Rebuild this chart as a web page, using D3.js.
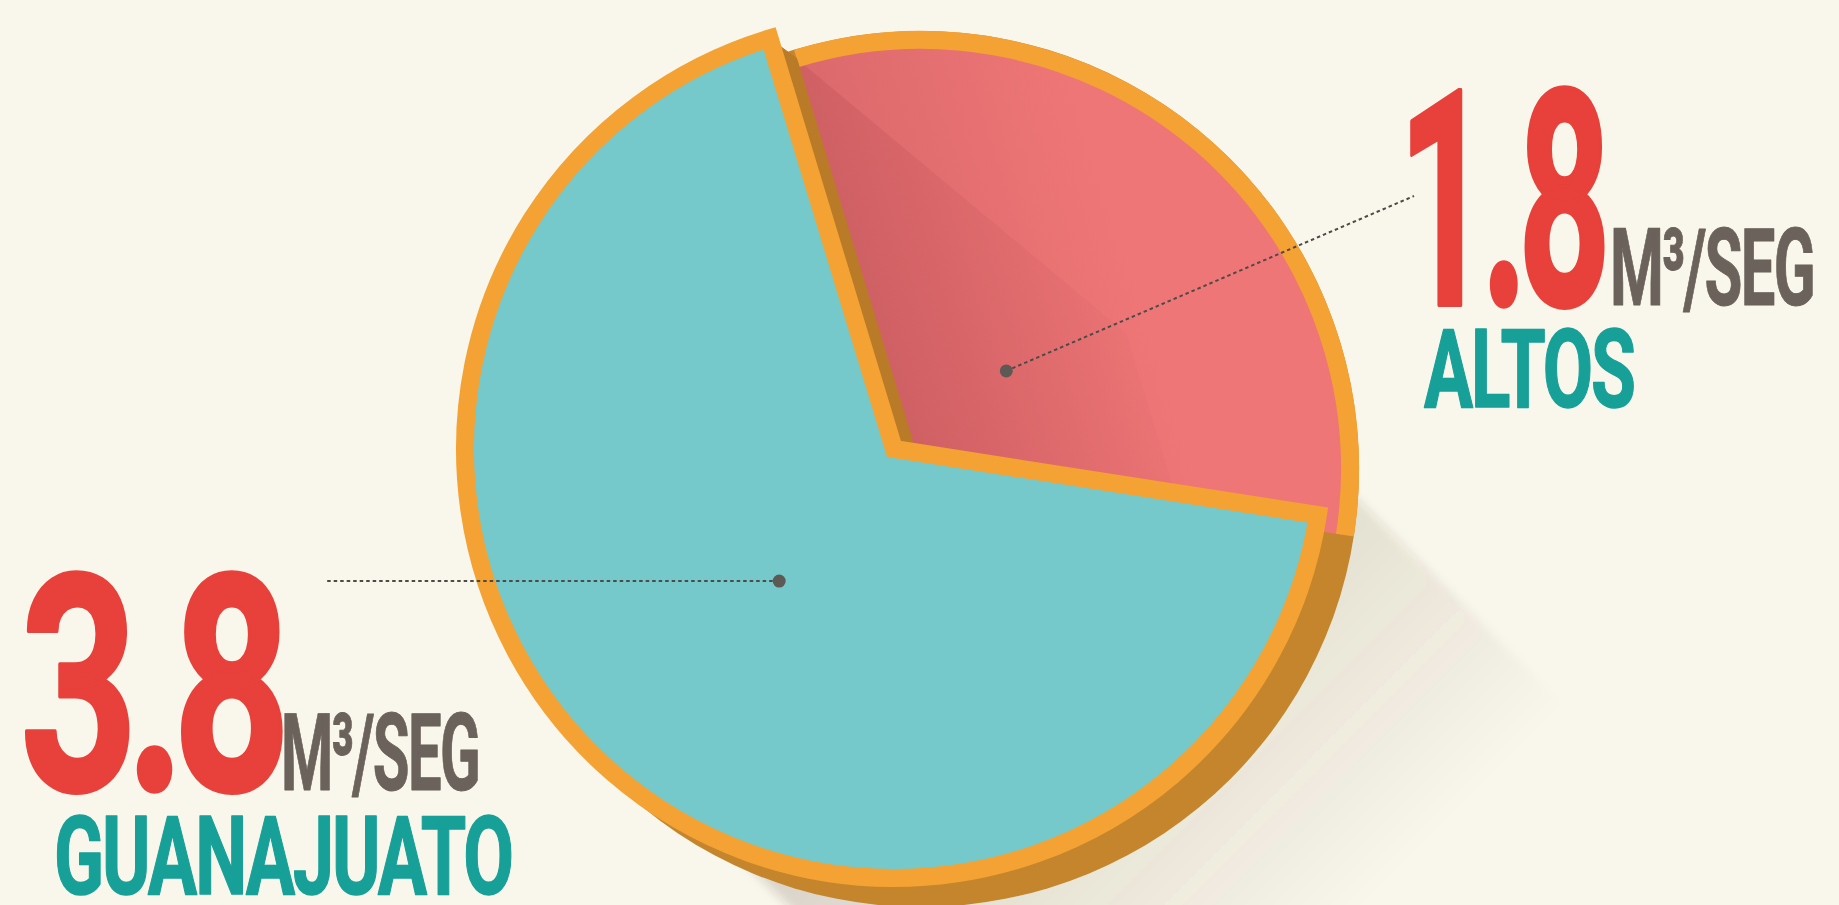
<!DOCTYPE html>
<html>
<head>
<meta charset="utf-8">
<script src="https://cdn.jsdelivr.net/npm/d3@7"></script>
<style>
  html, body { margin: 0; padding: 0; background: #f9f6eb; overflow: hidden; }
  svg { display: block; }
</style>
</head>
<body>
<svg id="chart" width="1839" height="905"></svg>
<script>
// Caudal aportado por región (m³/seg)
const categories = ["ALTOS", "GUANAJUATO"];
const values = [1.8, 3.8];
const valueLabels = ["1.8", "3.8"];
const unitLabel = "M³/SEG";

// ---- layout ----
const W = 1839, H = 905;
const C = { x: 894, y: 449 };        // centre of the raised face
const R = 429;                        // face radius
const RING = 18;                      // orange border width
const depth = { x: 27, y: 20 };       // offset of the lower level (3D thickness)
const midFirst = 41 * Math.PI / 180;  // direction of the first slice
const labelRadius = [130, 175];

const colors = {
  bg: "#f9f6eb",
  slice: ["#ef7676", "#75c9ca"],
  ring: "#f4a234",
  rim: "#c5852d",
  wall: "#b97b28",
  number: "#e8403a",
  unit: "#6a625b",
  name: "#17a098",
  leader: "#4d4a47"
};

const svg = d3.select("#chart");
svg.append("rect").attr("width", W).attr("height", H).attr("fill", colors.bg);

const total = d3.sum(values);
const a0 = midFirst - Math.PI * values[0] / total;
const pie = d3.pie().sort(null).startAngle(a0).endAngle(a0 + 2 * Math.PI);
const slices = pie(values);
const arc = d3.arc().innerRadius(0).outerRadius(R);
const rimArc = d3.arc().innerRadius(R).outerRadius(R);
const pt = (a, r) => [r * Math.sin(a), -r * Math.cos(a)];

const defs = svg.append("defs");

// long shadow toward the lower right
const u = [Math.SQRT1_2, Math.SQRT1_2];
const n = [Math.SQRT1_2, -Math.SQRT1_2];
const S = { x: C.x + depth.x / 2, y: C.y + depth.y / 2 };
const sp = (along, side) => [S.x + u[0] * along + n[0] * side, S.y + u[1] * along + n[1] * side];

defs.append("filter").attr("id", "soft").attr("x", "-20%").attr("y", "-20%").attr("width", "140%").attr("height", "140%")
  .append("feGaussianBlur").attr("stdDeviation", 5);

const sg = defs.append("linearGradient").attr("id", "shadowGrad").attr("gradientUnits", "userSpaceOnUse")
  .attr("x1", sp(200, 0)[0]).attr("y1", sp(200, 0)[1])
  .attr("x2", sp(640, 0)[0]).attr("y2", sp(640, 0)[1]);
sg.append("stop").attr("offset", 0).attr("stop-color", "#3a3020").attr("stop-opacity", 0.17);
sg.append("stop").attr("offset", 1).attr("stop-color", "#3a3020").attr("stop-opacity", 0);

svg.append("path")
  .attr("d", d3.line()([sp(0, 290), sp(900, 290), sp(900, -400), sp(0, -400)]) + "Z")
  .attr("fill", "url(#shadowGrad)")
  .attr("filter", "url(#soft)");

// lower level: side rim of the whole disc
svg.append("circle")
  .attr("cx", C.x + depth.x).attr("cy", C.y + depth.y).attr("r", R + RING / 2)
  .attr("fill", colors.rim);

// first slice, sunk to the lower level
const low = svg.append("g").attr("transform", `translate(${C.x + depth.x},${C.y + depth.y})`);
const s0 = slices[0];

const tipA = s0.startAngle;
const T = pt(tipA, R);
const perp = [Math.cos(tipA), Math.sin(tipA)];   // points into the sunk slice

const pg = defs.append("linearGradient").attr("id", "sinkGrad").attr("gradientUnits", "userSpaceOnUse")
  .attr("x1", 0).attr("y1", 0).attr("x2", perp[0] * 260).attr("y2", perp[1] * 260);
pg.append("stop").attr("offset", 0).attr("stop-color", "#db696c");
pg.append("stop").attr("offset", 1).attr("stop-color", colors.slice[0]);

defs.append("clipPath").attr("id", "sinkClip").append("path").attr("d", arc(s0));

low.append("path").attr("d", arc(s0)).attr("fill", "url(#sinkGrad)");

// shade cast by the raised wall
const sh = [330, 275];
const cg = defs.append("linearGradient").attr("id", "castGrad").attr("gradientUnits", "userSpaceOnUse")
  .attr("x1", 0).attr("y1", 0).attr("x2", perp[0] * 300).attr("y2", perp[1] * 300);
cg.append("stop").attr("offset", 0).attr("stop-color", "#7a1c28").attr("stop-opacity", 0.12);
cg.append("stop").attr("offset", 1).attr("stop-color", "#7a1c28").attr("stop-opacity", 0);
low.append("path")
  .attr("clip-path", "url(#sinkClip)")
  .attr("d", d3.line()([T, [T[0] + sh[0], T[1] + sh[1]], [sh[0], sh[1]], [0, 0]]) + "Z")
  .attr("fill", "url(#castGrad)");

low.append("path").attr("d", rimArc(s0))
  .attr("fill", "none").attr("stroke", colors.ring).attr("stroke-width", RING);

// wall of the raised slice facing the sunk one
const up = svg.append("g").attr("transform", `translate(${C.x},${C.y})`);
up.append("path")
  .attr("d", d3.line()([[0, 0], T, [T[0] + depth.x, T[1] + depth.y], [depth.x, depth.y]]) + "Z")
  .attr("fill", colors.wall)
  .attr("stroke", colors.wall).attr("stroke-width", 1);

// raised slice
up.append("path").attr("d", arc(slices[1]))
  .attr("fill", colors.slice[1])
  .attr("stroke", colors.ring).attr("stroke-width", RING)
  .attr("stroke-linejoin", "miter");

// leader lines and dots
const centres = [
  { x: C.x + depth.x, y: C.y + depth.y },
  { x: C.x, y: C.y }
];
const dots = slices.map((s, i) => {
  const c = d3.arc().innerRadius(labelRadius[i]).outerRadius(labelRadius[i]).centroid(s);
  return [centres[i].x + c[0], centres[i].y + c[1]];
});
const ends = [[1414, 196], [326, dots[1][1]]];

slices.forEach((s, i) => {
  svg.append("line")
    .attr("x1", dots[i][0]).attr("y1", dots[i][1])
    .attr("x2", ends[i][0]).attr("y2", ends[i][1])
    .attr("stroke", colors.leader).attr("stroke-width", 2)
    .attr("stroke-dasharray", "3.5 3");
  svg.append("circle").attr("cx", dots[i][0]).attr("cy", dots[i][1]).attr("r", 6.5)
    .attr("fill", "#5d5955");
});

// labels: condensed look obtained by measuring the text and squeezing it horizontally
const FONT = "Roboto, 'Liberation Sans', sans-serif";
function fitText(s, x, y, size, width, fill, sw, spacing) {
  const g = svg.append("g");
  const t = g.append("text")
    .attr("x", 0).attr("y", 0)
    .attr("font-family", FONT).attr("font-weight", 700)
    .attr("font-size", size)
    .attr("letter-spacing", spacing)
    .attr("fill", fill)
    .attr("stroke", fill).attr("stroke-width", sw).attr("stroke-linejoin", "round")
    .text(s);
  const bb = t.node().getBBox();
  const k = width / bb.width;
  g.attr("transform", `translate(${x - bb.x * k},${y}) scale(${k},1)`);
}
const textPos = [
  { num: [1398, 305, 206], unit: [1610, 305, 204], name: [1424, 407, 210] },
  { num: [20, 790, 262],   unit: [281, 790, 198],  name: [54, 894, 458] }
];
categories.forEach((name, i) => {
  const p = textPos[i];
  fitText(valueLabels[i], p.num[0], p.num[1], 302, p.num[2], colors.number, 4, -18);
  fitText(unitLabel, p.unit[0], p.unit[1], 108, p.unit[2], colors.unit, 1, -3);
  fitText(name, p.name[0], p.name[1], 110, p.name[2], colors.name, 1.5, -3);
});
</script>
</body>
</html>
